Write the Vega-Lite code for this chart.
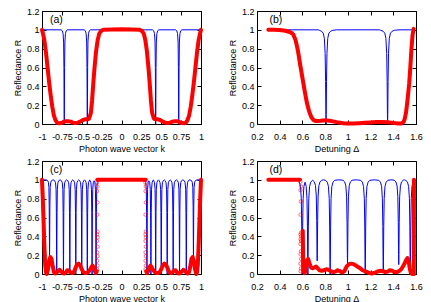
{
"$schema": "https://vega.github.io/schema/vega-lite/v6.json",
"padding": {"left": 12, "top": 6, "right": 0, "bottom": 0},
"background": "white",
"columns": 2,
"bounds": "flush",
"spacing": {"row": 37, "column": 56},
"config": {
 "font": "Liberation Sans",
 "view": {"stroke": "black", "strokeWidth": 1},
 "axis": {"domain": false, "grid": false, "ticks": true, "tickSize": -4, "tickColor": "black", "tickWidth": 1, "labelFont": "Liberation Sans", "labelFontSize": 9, "labelColor": "black", "labelFlush": false, "labelOverlap": false, "titleFont": "Liberation Sans", "titleFontSize": 9, "titleFontWeight": "normal", "titleColor": "black"},
 "axisX": {"labelPadding": 12, "titlePadding": 3},
 "axisY": {"labelPadding": 7, "titlePadding": 4}
},
"concat": [
{
 "width": 159, "height": 113,
 "resolve": {"axis": {"x": "independent", "y": "independent"}},
 "layer": [
  {"data": {"values": [
   {"x":-1,"R":1},{"x":-0.8,"R":1},
   {"x":-0.76,"R":1},{"x":-0.745,"R":0.99},{"x":-0.735,"R":0.96},{"x":-0.728,"R":0.87},{"x":-0.724,"R":0.6},{"x":-0.7215,"R":0.15},{"x":-0.72,"R":0},{"x":-0.7185,"R":0.15},{"x":-0.716,"R":0.6},{"x":-0.712,"R":0.87},{"x":-0.705,"R":0.96},{"x":-0.695,"R":0.99},{"x":-0.68,"R":1},
   {"x":-0.47,"R":1},{"x":-0.455,"R":0.99},{"x":-0.445,"R":0.96},{"x":-0.438,"R":0.87},{"x":-0.434,"R":0.6},{"x":-0.4315,"R":0.15},{"x":-0.43,"R":0},{"x":-0.4285,"R":0.15},{"x":-0.426,"R":0.6},{"x":-0.422,"R":0.87},{"x":-0.415,"R":0.96},{"x":-0.405,"R":0.99},{"x":-0.39,"R":1},
   {"x":0,"R":1},
   {"x":0.39,"R":1},{"x":0.405,"R":0.99},{"x":0.415,"R":0.96},{"x":0.422,"R":0.87},{"x":0.426,"R":0.6},{"x":0.4285,"R":0.15},{"x":0.43,"R":0},{"x":0.4315,"R":0.15},{"x":0.434,"R":0.6},{"x":0.438,"R":0.87},{"x":0.445,"R":0.96},{"x":0.455,"R":0.99},{"x":0.47,"R":1},
   {"x":0.68,"R":1},{"x":0.695,"R":0.99},{"x":0.705,"R":0.96},{"x":0.712,"R":0.87},{"x":0.716,"R":0.6},{"x":0.7185,"R":0.15},{"x":0.72,"R":0},{"x":0.7215,"R":0.15},{"x":0.724,"R":0.6},{"x":0.728,"R":0.87},{"x":0.735,"R":0.96},{"x":0.745,"R":0.99},{"x":0.76,"R":1},
   {"x":1,"R":1}
  ]},
  "mark": {"type": "line", "color": "#0000ff", "strokeWidth": 1},
  "encoding": {
   "x": {"field": "x", "type": "quantitative", "scale": {"domain": [-1, 1], "nice": false, "zero": false}, "axis": {"orient": "bottom", "values": [-1,-0.75,-0.5,-0.25,0,0.25,0.5,0.75,1], "labelExpr": "toString(datum.value)", "title": "Photon wave vector k"}},
   "y": {"field": "R", "type": "quantitative", "scale": {"domain": [0, 1.2], "nice": false}, "axis": {"orient": "left", "values": [0,0.2,0.4,0.6,0.8,1,1.2], "labelExpr": "toString(datum.value)", "title": "Reflectance R"}}
  }},
  {"data": {"values": [
   {"x":-1,"R":1},{"x":-0.985,"R":0.95},{"x":-0.97,"R":0.89},{"x":-0.95,"R":0.76},{"x":-0.93,"R":0.6},{"x":-0.91,"R":0.44},{"x":-0.89,"R":0.3},{"x":-0.87,"R":0.18},{"x":-0.85,"R":0.09},{"x":-0.83,"R":0.04},{"x":-0.81,"R":0.015},{"x":-0.79,"R":0.008},{"x":-0.76,"R":0.01},{"x":-0.73,"R":0.02},{"x":-0.7,"R":0.03},{"x":-0.67,"R":0.03},{"x":-0.64,"R":0.025},{"x":-0.61,"R":0.015},{"x":-0.58,"R":0.01},{"x":-0.55,"R":0.015},{"x":-0.52,"R":0.025},{"x":-0.49,"R":0.04},{"x":-0.46,"R":0.05},{"x":-0.43,"R":0.05},{"x":-0.41,"R":0.055},{"x":-0.395,"R":0.09},{"x":-0.385,"R":0.12},{"x":-0.37,"R":0.25},{"x":-0.355,"R":0.43},{"x":-0.34,"R":0.59},{"x":-0.32,"R":0.77},{"x":-0.3,"R":0.89},{"x":-0.28,"R":0.96},{"x":-0.26,"R":0.985},{"x":-0.23,"R":1.0},{"x":0,"R":1.005},
   {"x":0.23,"R":1.0},{"x":0.26,"R":0.985},{"x":0.28,"R":0.96},{"x":0.3,"R":0.89},{"x":0.32,"R":0.77},{"x":0.34,"R":0.59},{"x":0.355,"R":0.43},{"x":0.37,"R":0.25},{"x":0.385,"R":0.12},{"x":0.395,"R":0.09},{"x":0.41,"R":0.055},{"x":0.43,"R":0.05},{"x":0.46,"R":0.05},{"x":0.49,"R":0.04},{"x":0.52,"R":0.025},{"x":0.55,"R":0.015},{"x":0.58,"R":0.01},{"x":0.61,"R":0.015},{"x":0.64,"R":0.025},{"x":0.67,"R":0.03},{"x":0.7,"R":0.03},{"x":0.73,"R":0.02},{"x":0.76,"R":0.01},{"x":0.79,"R":0.008},{"x":0.81,"R":0.015},{"x":0.83,"R":0.04},{"x":0.85,"R":0.09},{"x":0.87,"R":0.18},{"x":0.89,"R":0.3},{"x":0.91,"R":0.44},{"x":0.93,"R":0.6},{"x":0.95,"R":0.76},{"x":0.97,"R":0.89},{"x":0.985,"R":0.95},{"x":1,"R":1}
  ]},
  "mark": {"type": "line", "color": "#ff0000", "strokeWidth": 4, "strokeCap": "round", "strokeJoin": "round"},
  "encoding": {
   "x": {"field": "x", "type": "quantitative", "scale": {"domain": [-1, 1], "nice": false, "zero": false}, "axis": null},
   "y": {"field": "R", "type": "quantitative", "scale": {"domain": [0, 1.2], "nice": false}, "axis": null}
  }},
  {"data": {"values": [{"x": -0.9, "R": 1.1, "t": "(a)"}]},
  "mark": {"type": "text", "align": "left", "baseline": "middle", "fontSize": 10.5, "color": "black"},
  "encoding": {
   "x": {"field": "x", "type": "quantitative", "scale": {"domain": [-1, 1], "nice": false, "zero": false}, "axis": {"orient": "top", "values": [-1,-0.75,-0.5,-0.25,0,0.25,0.5,0.75,1], "labels": false, "title": null}},
   "y": {"field": "R", "type": "quantitative", "scale": {"domain": [0, 1.2], "nice": false}, "axis": {"orient": "right", "values": [0,0.2,0.4,0.6,0.8,1,1.2], "labels": false, "title": null}},
   "text": {"field": "t"}
  }}
 ]
},
{
 "width": 159, "height": 113,
 "resolve": {"axis": {"x": "independent", "y": "independent"}},
 "layer": [
  {"data": {"values": [
   {"x":0.3,"R":1},{"x":0.74,"R":1},
   {"x":0.748,"R":0.995},{"x":0.768,"R":0.985},{"x":0.783,"R":0.965},{"x":0.793,"R":0.91},{"x":0.8,"R":0.75},{"x":0.804,"R":0.45},{"x":0.8065,"R":0.1},{"x":0.808,"R":0},{"x":0.8095,"R":0.1},{"x":0.812,"R":0.45},{"x":0.816,"R":0.75},{"x":0.823,"R":0.91},{"x":0.833,"R":0.965},{"x":0.848,"R":0.985},{"x":0.868,"R":0.995},{"x":0.9,"R":1},
   {"x":1.28,"R":1},
   {"x":1.29,"R":0.995},{"x":1.31,"R":0.985},{"x":1.325,"R":0.965},{"x":1.335,"R":0.91},{"x":1.342,"R":0.75},{"x":1.346,"R":0.45},{"x":1.3485,"R":0.1},{"x":1.35,"R":0},{"x":1.3515,"R":0.1},{"x":1.354,"R":0.45},{"x":1.358,"R":0.75},{"x":1.365,"R":0.91},{"x":1.375,"R":0.965},{"x":1.39,"R":0.985},{"x":1.41,"R":0.995},{"x":1.45,"R":1},{"x":1.58,"R":1}
  ]},
  "mark": {"type": "line", "color": "#0000ff", "strokeWidth": 1},
  "encoding": {
   "x": {"field": "x", "type": "quantitative", "scale": {"domain": [0.2, 1.6], "nice": false, "zero": false}, "axis": {"orient": "bottom", "values": [0.2,0.4,0.6,0.8,1,1.2,1.4,1.6], "labelExpr": "toString(datum.value)", "title": "Detuning Δ"}},
   "y": {"field": "R", "type": "quantitative", "scale": {"domain": [0, 1.2], "nice": false}, "axis": {"orient": "left", "values": [0,0.2,0.4,0.6,0.8,1,1.2], "labelExpr": "toString(datum.value)", "title": "Reflectance R"}}
  }},
  {"data": {"values": [
   {"x":0.3,"R":1.0},{"x":0.35,"R":1.0},{"x":0.4,"R":0.998},{"x":0.45,"R":0.99},{"x":0.48,"R":0.98},{"x":0.5,"R":0.97},{"x":0.52,"R":0.95},{"x":0.54,"R":0.89},{"x":0.56,"R":0.78},{"x":0.58,"R":0.63},{"x":0.6,"R":0.49},{"x":0.62,"R":0.35},{"x":0.64,"R":0.22},{"x":0.66,"R":0.13},{"x":0.68,"R":0.07},{"x":0.7,"R":0.04},{"x":0.72,"R":0.032},{"x":0.76,"R":0.035},{"x":0.8,"R":0.04},{"x":0.84,"R":0.035},{"x":0.88,"R":0.025},{"x":0.92,"R":0.015},{"x":0.96,"R":0.008},{"x":1.0,"R":0.005},{"x":1.05,"R":0.005},{"x":1.1,"R":0.008},{"x":1.15,"R":0.012},{"x":1.2,"R":0.016},{"x":1.25,"R":0.02},{"x":1.3,"R":0.02},{"x":1.35,"R":0.018},{"x":1.4,"R":0.012},{"x":1.44,"R":0.005},{"x":1.47,"R":0.005},{"x":1.49,"R":0.02},{"x":1.5,"R":0.05},{"x":1.512,"R":0.12},{"x":1.525,"R":0.25},{"x":1.54,"R":0.43},{"x":1.55,"R":0.6},{"x":1.56,"R":0.8},{"x":1.57,"R":0.95},{"x":1.58,"R":1.01}
  ]},
  "mark": {"type": "line", "color": "#ff0000", "strokeWidth": 4, "strokeCap": "round", "strokeJoin": "round"},
  "encoding": {
   "x": {"field": "x", "type": "quantitative", "scale": {"domain": [0.2, 1.6], "nice": false, "zero": false}, "axis": null},
   "y": {"field": "R", "type": "quantitative", "scale": {"domain": [0, 1.2], "nice": false}, "axis": null}
  }},
  {"data": {"values": [{"x": 0.31, "R": 1.1, "t": "(b)"}]},
  "mark": {"type": "text", "align": "left", "baseline": "middle", "fontSize": 10.5, "color": "black"},
  "encoding": {
   "x": {"field": "x", "type": "quantitative", "scale": {"domain": [0.2, 1.6], "nice": false, "zero": false}, "axis": {"orient": "top", "values": [0.2,0.4,0.6,0.8,1,1.2,1.4,1.6], "labels": false, "title": null}},
   "y": {"field": "R", "type": "quantitative", "scale": {"domain": [0, 1.2], "nice": false}, "axis": {"orient": "right", "values": [0,0.2,0.4,0.6,0.8,1,1.2], "labels": false, "title": null}},
   "text": {"field": "t"}
  }}
 ]
},
{
 "width": 159, "height": 113,
 "resolve": {"axis": {"x": "independent", "y": "independent"}},
 "layer": [
  {"data": {"values": [
   {"x":-1,"R":1},{"x":-0.95,"R":1},
   {"x":-0.93,"R":0.992},{"x":-0.92,"R":0.975},{"x":-0.913,"R":0.918},{"x":-0.909,"R":0.713},{"x":-0.9065,"R":0.344},{"x":-0.905,"R":0.18},{"x":-0.9035,"R":0.344},{"x":-0.901,"R":0.713},{"x":-0.897,"R":0.918},{"x":-0.89,"R":0.975},{"x":-0.88,"R":0.992},{"x":-0.86,"R":1},
   {"x":-0.84,"R":0.99},{"x":-0.83,"R":0.97},{"x":-0.823,"R":0.9},{"x":-0.819,"R":0.65},{"x":-0.8165,"R":0.2},{"x":-0.815,"R":0},{"x":-0.8135,"R":0.2},{"x":-0.811,"R":0.65},{"x":-0.807,"R":0.9},{"x":-0.8,"R":0.97},{"x":-0.79,"R":0.99},{"x":-0.772,"R":1},
   {"x":-0.755,"R":0.99},{"x":-0.745,"R":0.97},{"x":-0.738,"R":0.9},{"x":-0.734,"R":0.65},{"x":-0.7315,"R":0.2},{"x":-0.73,"R":0},{"x":-0.7285,"R":0.2},{"x":-0.726,"R":0.65},{"x":-0.722,"R":0.9},{"x":-0.715,"R":0.97},{"x":-0.705,"R":0.99},{"x":-0.69,"R":1},
   {"x":-0.675,"R":0.99},{"x":-0.665,"R":0.97},{"x":-0.658,"R":0.9},{"x":-0.654,"R":0.65},{"x":-0.6515,"R":0.2},{"x":-0.65,"R":0},{"x":-0.6485,"R":0.2},{"x":-0.646,"R":0.65},{"x":-0.642,"R":0.9},{"x":-0.635,"R":0.97},{"x":-0.625,"R":0.99},{"x":-0.612,"R":1},
   {"x":-0.6,"R":0.99},{"x":-0.59,"R":0.97},{"x":-0.583,"R":0.9},{"x":-0.579,"R":0.65},{"x":-0.5765,"R":0.2},{"x":-0.575,"R":0},{"x":-0.5735,"R":0.2},{"x":-0.571,"R":0.65},{"x":-0.567,"R":0.9},{"x":-0.56,"R":0.97},{"x":-0.55,"R":0.99},{"x":-0.5375,"R":1},
   {"x":-0.525,"R":0.99},{"x":-0.515,"R":0.97},{"x":-0.508,"R":0.9},{"x":-0.504,"R":0.65},{"x":-0.5015,"R":0.2},{"x":-0.5,"R":0},{"x":-0.4985,"R":0.2},{"x":-0.496,"R":0.65},{"x":-0.492,"R":0.9},{"x":-0.485,"R":0.97},{"x":-0.475,"R":0.99},{"x":-0.465,"R":1},
   {"x":-0.455,"R":0.99},{"x":-0.445,"R":0.97},{"x":-0.438,"R":0.9},{"x":-0.434,"R":0.65},{"x":-0.4315,"R":0.2},{"x":-0.43,"R":0},{"x":-0.4285,"R":0.2},{"x":-0.426,"R":0.65},{"x":-0.422,"R":0.9},{"x":-0.415,"R":0.97},{"x":-0.405,"R":0.99},{"x":-0.4,"R":1},
   {"x":-0.395,"R":0.99},{"x":-0.385,"R":0.97},{"x":-0.378,"R":0.9},{"x":-0.374,"R":0.65},{"x":-0.3715,"R":0.2},{"x":-0.37,"R":0},{"x":-0.3685,"R":0.2},{"x":-0.366,"R":0.65},{"x":-0.362,"R":0.9},{"x":-0.355,"R":0.97},{"x":-0.345,"R":0.99},
   {"x":-0.335,"R":0.97},{"x":-0.328,"R":0.9},{"x":-0.324,"R":0.65},{"x":-0.3215,"R":0.2},{"x":-0.32,"R":0},{"x":-0.3185,"R":0.2},{"x":-0.316,"R":0.65},{"x":-0.312,"R":0.9},{"x":-0.305,"R":0.97},{"x":-0.295,"R":0.99},
   {"x":0,"R":1},
   {"x":0.295,"R":0.99},{"x":0.305,"R":0.97},{"x":0.312,"R":0.9},{"x":0.316,"R":0.65},{"x":0.3185,"R":0.2},{"x":0.32,"R":0},{"x":0.3215,"R":0.2},{"x":0.324,"R":0.65},{"x":0.328,"R":0.9},{"x":0.335,"R":0.97},
   {"x":0.345,"R":0.99},{"x":0.355,"R":0.97},{"x":0.362,"R":0.9},{"x":0.366,"R":0.65},{"x":0.3685,"R":0.2},{"x":0.37,"R":0},{"x":0.3715,"R":0.2},{"x":0.374,"R":0.65},{"x":0.378,"R":0.9},{"x":0.385,"R":0.97},{"x":0.395,"R":0.99},
   {"x":0.4,"R":1},{"x":0.405,"R":0.99},{"x":0.415,"R":0.97},{"x":0.422,"R":0.9},{"x":0.426,"R":0.65},{"x":0.4285,"R":0.2},{"x":0.43,"R":0},{"x":0.4315,"R":0.2},{"x":0.434,"R":0.65},{"x":0.438,"R":0.9},{"x":0.445,"R":0.97},{"x":0.455,"R":0.99},
   {"x":0.465,"R":1},{"x":0.475,"R":0.99},{"x":0.485,"R":0.97},{"x":0.492,"R":0.9},{"x":0.496,"R":0.65},{"x":0.4985,"R":0.2},{"x":0.5,"R":0},{"x":0.5015,"R":0.2},{"x":0.504,"R":0.65},{"x":0.508,"R":0.9},{"x":0.515,"R":0.97},{"x":0.525,"R":0.99},
   {"x":0.5375,"R":1},{"x":0.55,"R":0.99},{"x":0.56,"R":0.97},{"x":0.567,"R":0.9},{"x":0.571,"R":0.65},{"x":0.5735,"R":0.2},{"x":0.575,"R":0},{"x":0.5765,"R":0.2},{"x":0.579,"R":0.65},{"x":0.583,"R":0.9},{"x":0.59,"R":0.97},{"x":0.6,"R":0.99},
   {"x":0.612,"R":1},{"x":0.625,"R":0.99},{"x":0.635,"R":0.97},{"x":0.642,"R":0.9},{"x":0.646,"R":0.65},{"x":0.6485,"R":0.2},{"x":0.65,"R":0},{"x":0.6515,"R":0.2},{"x":0.654,"R":0.65},{"x":0.658,"R":0.9},{"x":0.665,"R":0.97},{"x":0.675,"R":0.99},
   {"x":0.69,"R":1},{"x":0.705,"R":0.99},{"x":0.715,"R":0.97},{"x":0.722,"R":0.9},{"x":0.726,"R":0.65},{"x":0.7285,"R":0.2},{"x":0.73,"R":0},{"x":0.7315,"R":0.2},{"x":0.734,"R":0.65},{"x":0.738,"R":0.9},{"x":0.745,"R":0.97},{"x":0.755,"R":0.99},
   {"x":0.772,"R":1},{"x":0.79,"R":0.99},{"x":0.8,"R":0.97},{"x":0.807,"R":0.9},{"x":0.811,"R":0.65},{"x":0.8135,"R":0.2},{"x":0.815,"R":0},{"x":0.8165,"R":0.2},{"x":0.819,"R":0.65},{"x":0.823,"R":0.9},{"x":0.83,"R":0.97},{"x":0.84,"R":0.99},
   {"x":0.86,"R":1},{"x":0.88,"R":0.992},{"x":0.89,"R":0.975},{"x":0.897,"R":0.918},{"x":0.901,"R":0.713},{"x":0.9035,"R":0.344},{"x":0.905,"R":0.18},{"x":0.9065,"R":0.344},{"x":0.909,"R":0.713},{"x":0.913,"R":0.918},{"x":0.92,"R":0.975},{"x":0.93,"R":0.992},
   {"x":0.95,"R":1},{"x":1,"R":1}
  ]},
  "mark": {"type": "line", "color": "#0000ff", "strokeWidth": 1},
  "encoding": {
   "x": {"field": "x", "type": "quantitative", "scale": {"domain": [-1, 1], "nice": false, "zero": false}, "axis": {"orient": "bottom", "values": [-1,-0.75,-0.5,-0.25,0,0.25,0.5,0.75,1], "labelExpr": "toString(datum.value)", "title": "Photon wave vector k"}},
   "y": {"field": "R", "type": "quantitative", "scale": {"domain": [0, 1.2], "nice": false}, "axis": {"orient": "left", "values": [0,0.2,0.4,0.6,0.8,1,1.2], "labelExpr": "toString(datum.value)", "title": "Reflectance R"}}
  }},
  {"data": {"values": [
   {"seg":1,"x":-1,"R":1},{"seg":1,"x":-0.99,"R":0.8},{"seg":1,"x":-0.98,"R":0.55},{"seg":1,"x":-0.97,"R":0.3},{"seg":1,"x":-0.96,"R":0.1},{"seg":1,"x":-0.95,"R":0.02},{"seg":1,"x":-0.94,"R":0.0},{"seg":1,"x":-0.925,"R":0.05},{"seg":1,"x":-0.91,"R":0.14},{"seg":1,"x":-0.895,"R":0.18},{"seg":1,"x":-0.88,"R":0.16},{"seg":1,"x":-0.865,"R":0.08},{"seg":1,"x":-0.85,"R":0.02},{"seg":1,"x":-0.835,"R":0.005},{"seg":1,"x":-0.82,"R":0.01},{"seg":1,"x":-0.8,"R":0.03},{"seg":1,"x":-0.78,"R":0.045},{"seg":1,"x":-0.76,"R":0.03},{"seg":1,"x":-0.74,"R":0.01},{"seg":1,"x":-0.72,"R":0.005},{"seg":1,"x":-0.7,"R":0.015},{"seg":1,"x":-0.68,"R":0.04},{"seg":1,"x":-0.66,"R":0.035},{"seg":1,"x":-0.64,"R":0.015},{"seg":1,"x":-0.62,"R":0.01},{"seg":1,"x":-0.6,"R":0.02},{"seg":1,"x":-0.58,"R":0.06},{"seg":1,"x":-0.56,"R":0.1},{"seg":1,"x":-0.54,"R":0.11},{"seg":1,"x":-0.52,"R":0.09},{"seg":1,"x":-0.5,"R":0.05},{"seg":1,"x":-0.48,"R":0.02},{"seg":1,"x":-0.46,"R":0.01},{"seg":1,"x":-0.44,"R":0.01},{"seg":1,"x":-0.42,"R":0.02},{"seg":1,"x":-0.4,"R":0.04},{"seg":1,"x":-0.38,"R":0.07},{"seg":1,"x":-0.365,"R":0.09},{"seg":1,"x":-0.35,"R":0.07},{"seg":1,"x":-0.335,"R":0.03},{"seg":1,"x":-0.32,"R":0.01},{"seg":1,"x":-0.31,"R":0.03},
   {"seg":2,"x":-0.305,"R":1},{"seg":2,"x":0.305,"R":1},
   {"seg":3,"x":0.31,"R":0.03},{"seg":3,"x":0.32,"R":0.01},{"seg":3,"x":0.335,"R":0.03},{"seg":3,"x":0.35,"R":0.07},{"seg":3,"x":0.365,"R":0.09},{"seg":3,"x":0.38,"R":0.07},{"seg":3,"x":0.4,"R":0.04},{"seg":3,"x":0.42,"R":0.02},{"seg":3,"x":0.44,"R":0.01},{"seg":3,"x":0.46,"R":0.01},{"seg":3,"x":0.48,"R":0.02},{"seg":3,"x":0.5,"R":0.05},{"seg":3,"x":0.52,"R":0.09},{"seg":3,"x":0.54,"R":0.11},{"seg":3,"x":0.56,"R":0.1},{"seg":3,"x":0.58,"R":0.06},{"seg":3,"x":0.6,"R":0.02},{"seg":3,"x":0.62,"R":0.01},{"seg":3,"x":0.64,"R":0.015},{"seg":3,"x":0.66,"R":0.035},{"seg":3,"x":0.68,"R":0.04},{"seg":3,"x":0.7,"R":0.015},{"seg":3,"x":0.72,"R":0.005},{"seg":3,"x":0.74,"R":0.01},{"seg":3,"x":0.76,"R":0.03},{"seg":3,"x":0.78,"R":0.045},{"seg":3,"x":0.8,"R":0.03},{"seg":3,"x":0.82,"R":0.01},{"seg":3,"x":0.835,"R":0.005},{"seg":3,"x":0.85,"R":0.02},{"seg":3,"x":0.865,"R":0.08},{"seg":3,"x":0.88,"R":0.16},{"seg":3,"x":0.895,"R":0.18},{"seg":3,"x":0.91,"R":0.14},{"seg":3,"x":0.925,"R":0.05},{"seg":3,"x":0.94,"R":0.0},{"seg":3,"x":0.95,"R":0.02},{"seg":3,"x":0.96,"R":0.1},{"seg":3,"x":0.97,"R":0.3},{"seg":3,"x":0.98,"R":0.55},{"seg":3,"x":0.99,"R":0.8},{"seg":3,"x":1,"R":1}
  ]},
  "mark": {"type": "line", "color": "#ff0000", "strokeWidth": 4, "strokeCap": "round", "strokeJoin": "round"},
  "encoding": {
   "x": {"field": "x", "type": "quantitative", "scale": {"domain": [-1, 1], "nice": false, "zero": false}, "axis": null},
   "y": {"field": "R", "type": "quantitative", "scale": {"domain": [0, 1.2], "nice": false}, "axis": null},
   "detail": {"field": "seg"}
  }},
  {"data": {"values": [
   {"x":-0.307,"R":0.97},{"x":-0.303,"R":0.93},{"x":-0.307,"R":0.88},{"x":-0.303,"R":0.76},{"x":-0.307,"R":0.63},{"x":-0.303,"R":0.45},{"x":-0.307,"R":0.42},{"x":-0.303,"R":0.39},{"x":-0.307,"R":0.35},{"x":-0.303,"R":0.29},{"x":-0.307,"R":0.23},{"x":-0.303,"R":0.19},{"x":-0.307,"R":0.14},{"x":-0.303,"R":0.09},{"x":-0.307,"R":0.05},
   {"x":0.303,"R":0.97},{"x":0.307,"R":0.93},{"x":0.303,"R":0.88},{"x":0.307,"R":0.76},{"x":0.303,"R":0.63},{"x":0.307,"R":0.45},{"x":0.303,"R":0.42},{"x":0.307,"R":0.39},{"x":0.303,"R":0.35},{"x":0.307,"R":0.29},{"x":0.303,"R":0.23},{"x":0.307,"R":0.19},{"x":0.303,"R":0.14},{"x":0.307,"R":0.09},{"x":0.303,"R":0.05}
  ]},
  "mark": {"type": "point", "shape": "circle", "filled": false, "color": "#ff0000", "size": 12, "strokeWidth": 0.8},
  "encoding": {
   "x": {"field": "x", "type": "quantitative", "scale": {"domain": [-1, 1], "nice": false, "zero": false}, "axis": null},
   "y": {"field": "R", "type": "quantitative", "scale": {"domain": [0, 1.2], "nice": false}, "axis": null}
  }},
  {"data": {"values": [{"x": -0.9, "R": 1.1, "t": "(c)"}]},
  "mark": {"type": "text", "align": "left", "baseline": "middle", "fontSize": 10.5, "color": "black"},
  "encoding": {
   "x": {"field": "x", "type": "quantitative", "scale": {"domain": [-1, 1], "nice": false, "zero": false}, "axis": {"orient": "top", "values": [-1,-0.75,-0.5,-0.25,0,0.25,0.5,0.75,1], "labels": false, "title": null}},
   "y": {"field": "R", "type": "quantitative", "scale": {"domain": [0, 1.2], "nice": false}, "axis": {"orient": "right", "values": [0,0.2,0.4,0.6,0.8,1,1.2], "labels": false, "title": null}},
   "text": {"field": "t"}
  }}
 ]
},
{
 "width": 159, "height": 113,
 "resolve": {"axis": {"x": "independent", "y": "independent"}},
 "layer": [
  {"data": {"values": [
   {"x":0.3,"R":1},{"x":0.56,"R":1},
   {"x":0.573,"R":0.975},{"x":0.583,"R":0.93},{"x":0.59,"R":0.8},{"x":0.594,"R":0.5},{"x":0.5965,"R":0.12},{"x":0.598,"R":0},{"x":0.5995,"R":0.12},{"x":0.602,"R":0.5},{"x":0.606,"R":0.8},{"x":0.613,"R":0.93},{"x":0.623,"R":0.975},
   {"x":0.633,"R":0.93},{"x":0.64,"R":0.8},{"x":0.644,"R":0.5},{"x":0.6465,"R":0.12},{"x":0.648,"R":0},{"x":0.6495,"R":0.12},{"x":0.652,"R":0.5},{"x":0.656,"R":0.8},{"x":0.663,"R":0.93},{"x":0.673,"R":0.975},{"x":0.688,"R":0.995},
   {"x":0.69,"R":0.996},{"x":0.705,"R":0.979},{"x":0.715,"R":0.94},{"x":0.722,"R":0.828},{"x":0.726,"R":0.57},{"x":0.7285,"R":0.243},{"x":0.73,"R":0.14},{"x":0.7315,"R":0.243},{"x":0.734,"R":0.57},{"x":0.738,"R":0.828},{"x":0.745,"R":0.94},{"x":0.755,"R":0.979},{"x":0.77,"R":0.996},{"x":0.787,"R":1},
   {"x":0.804,"R":0.995},{"x":0.819,"R":0.975},{"x":0.829,"R":0.93},{"x":0.836,"R":0.8},{"x":0.84,"R":0.5},{"x":0.8425,"R":0.12},{"x":0.844,"R":0},{"x":0.8455,"R":0.12},{"x":0.848,"R":0.5},{"x":0.852,"R":0.8},{"x":0.859,"R":0.93},{"x":0.869,"R":0.975},{"x":0.884,"R":0.995},{"x":0.92,"R":1},
   {"x":0.957,"R":0.996},{"x":0.972,"R":0.978},{"x":0.982,"R":0.937},{"x":0.989,"R":0.82},{"x":0.993,"R":0.55},{"x":0.9955,"R":0.208},{"x":0.997,"R":0.1},{"x":0.9985,"R":0.208},{"x":1.001,"R":0.55},{"x":1.005,"R":0.82},{"x":1.012,"R":0.937},{"x":1.022,"R":0.978},{"x":1.037,"R":0.996},{"x":1.075,"R":1},
   {"x":1.113,"R":0.995},{"x":1.128,"R":0.975},{"x":1.138,"R":0.93},{"x":1.145,"R":0.8},{"x":1.149,"R":0.5},{"x":1.1515,"R":0.12},{"x":1.153,"R":0},{"x":1.1545,"R":0.12},{"x":1.157,"R":0.5},{"x":1.161,"R":0.8},{"x":1.168,"R":0.93},{"x":1.178,"R":0.975},{"x":1.193,"R":0.995},{"x":1.232,"R":1},
   {"x":1.272,"R":0.995},{"x":1.287,"R":0.975},{"x":1.297,"R":0.931},{"x":1.304,"R":0.802},{"x":1.308,"R":0.505},{"x":1.3105,"R":0.129},{"x":1.312,"R":0.01},{"x":1.3135,"R":0.129},{"x":1.316,"R":0.505},{"x":1.32,"R":0.802},{"x":1.327,"R":0.931},{"x":1.337,"R":0.975},{"x":1.352,"R":0.995},{"x":1.38,"R":1},
   {"x":1.408,"R":0.996},{"x":1.423,"R":0.978},{"x":1.433,"R":0.937},{"x":1.44,"R":0.82},{"x":1.444,"R":0.55},{"x":1.4465,"R":0.208},{"x":1.448,"R":0.1},{"x":1.4495,"R":0.208},{"x":1.452,"R":0.55},{"x":1.456,"R":0.82},{"x":1.463,"R":0.937},{"x":1.473,"R":0.978},{"x":1.488,"R":0.996},{"x":1.5,"R":1},
   {"x":1.51,"R":0.995},{"x":1.525,"R":0.975},{"x":1.535,"R":0.93},{"x":1.542,"R":0.8},{"x":1.546,"R":0.5},{"x":1.5485,"R":0.12},{"x":1.55,"R":0},{"x":1.5515,"R":0.12},{"x":1.554,"R":0.5},{"x":1.558,"R":0.8},{"x":1.565,"R":0.93},{"x":1.575,"R":0.975},{"x":1.58,"R":0.99}
  ]},
  "mark": {"type": "line", "color": "#0000ff", "strokeWidth": 1},
  "encoding": {
   "x": {"field": "x", "type": "quantitative", "scale": {"domain": [0.2, 1.6], "nice": false, "zero": false}, "axis": {"orient": "bottom", "values": [0.2,0.4,0.6,0.8,1,1.2,1.4,1.6], "labelExpr": "toString(datum.value)", "title": "Detuning Δ"}},
   "y": {"field": "R", "type": "quantitative", "scale": {"domain": [0, 1.2], "nice": false}, "axis": {"orient": "left", "values": [0,0.2,0.4,0.6,0.8,1,1.2], "labelExpr": "toString(datum.value)", "title": "Reflectance R"}}
  }},
  {"data": {"values": [
   {"seg":1,"x":0.3,"R":1},{"seg":1,"x":0.578,"R":1},
   {"seg":2,"x":0.603,"R":0.46},{"seg":2,"x":0.606,"R":0.2},{"seg":2,"x":0.609,"R":0.03},{"seg":2,"x":0.62,"R":0.01},{"seg":2,"x":0.63,"R":0.05},{"seg":2,"x":0.64,"R":0.14},{"seg":2,"x":0.65,"R":0.16},{"seg":2,"x":0.66,"R":0.12},{"seg":2,"x":0.675,"R":0.07},{"seg":2,"x":0.69,"R":0.06},{"seg":2,"x":0.705,"R":0.07},{"seg":2,"x":0.72,"R":0.08},{"seg":2,"x":0.735,"R":0.06},{"seg":2,"x":0.75,"R":0.04},{"seg":2,"x":0.77,"R":0.035},{"seg":2,"x":0.79,"R":0.04},{"seg":2,"x":0.81,"R":0.05},{"seg":2,"x":0.83,"R":0.045},{"seg":2,"x":0.85,"R":0.03},{"seg":2,"x":0.87,"R":0.02},{"seg":2,"x":0.89,"R":0.025},{"seg":2,"x":0.91,"R":0.04},{"seg":2,"x":0.93,"R":0.03},{"seg":2,"x":0.95,"R":0.015},{"seg":2,"x":0.97,"R":0.03},{"seg":2,"x":0.99,"R":0.08},{"seg":2,"x":1.01,"R":0.105},{"seg":2,"x":1.03,"R":0.11},{"seg":2,"x":1.05,"R":0.105},{"seg":2,"x":1.07,"R":0.09},{"seg":2,"x":1.09,"R":0.075},{"seg":2,"x":1.11,"R":0.06},{"seg":2,"x":1.13,"R":0.04},{"seg":2,"x":1.15,"R":0.03},{"seg":2,"x":1.17,"R":0.02},{"seg":2,"x":1.19,"R":0.01},{"seg":2,"x":1.21,"R":0.005},{"seg":2,"x":1.23,"R":0.01},{"seg":2,"x":1.25,"R":0.02},{"seg":2,"x":1.27,"R":0.03},{"seg":2,"x":1.29,"R":0.035},{"seg":2,"x":1.31,"R":0.03},{"seg":2,"x":1.33,"R":0.02},{"seg":2,"x":1.35,"R":0.025},{"seg":2,"x":1.37,"R":0.04},{"seg":2,"x":1.39,"R":0.035},{"seg":2,"x":1.41,"R":0.02},{"seg":2,"x":1.43,"R":0.02},{"seg":2,"x":1.45,"R":0.03},{"seg":2,"x":1.47,"R":0.05},{"seg":2,"x":1.49,"R":0.09},{"seg":2,"x":1.51,"R":0.14},{"seg":2,"x":1.525,"R":0.17},{"seg":2,"x":1.535,"R":0.14},{"seg":2,"x":1.545,"R":0.06},{"seg":2,"x":1.555,"R":0.01},{"seg":2,"x":1.565,"R":0.0},{"seg":2,"x":1.575,"R":0.0},
   {"seg":3,"x":1.581,"R":0.0},{"seg":3,"x":1.582,"R":1.0}
  ]},
  "mark": {"type": "line", "color": "#ff0000", "strokeWidth": 4, "strokeCap": "round", "strokeJoin": "round"},
  "encoding": {
   "x": {"field": "x", "type": "quantitative", "scale": {"domain": [0.2, 1.6], "nice": false, "zero": false}, "axis": null},
   "y": {"field": "R", "type": "quantitative", "scale": {"domain": [0, 1.2], "nice": false}, "axis": null},
   "detail": {"field": "seg"}
  }},
  {"data": {"values": [
   {"x":0.582,"R":0.98},{"x":0.587,"R":0.93},{"x":0.583,"R":0.89},{"x":0.586,"R":0.77},{"x":0.584,"R":0.63},{"x":0.588,"R":0.44},{"x":0.583,"R":0.42},{"x":0.587,"R":0.4},{"x":0.584,"R":0.37},{"x":0.588,"R":0.35},{"x":0.583,"R":0.32},{"x":0.587,"R":0.24},{"x":0.584,"R":0.21},{"x":0.588,"R":0.16},{"x":0.583,"R":0.11},{"x":0.587,"R":0.06},{"x":0.584,"R":0.03}
  ]},
  "mark": {"type": "point", "shape": "circle", "filled": false, "color": "#ff0000", "size": 12, "strokeWidth": 0.8},
  "encoding": {
   "x": {"field": "x", "type": "quantitative", "scale": {"domain": [0.2, 1.6], "nice": false, "zero": false}, "axis": null},
   "y": {"field": "R", "type": "quantitative", "scale": {"domain": [0, 1.2], "nice": false}, "axis": null}
  }},
  {"data": {"values": [{"x": 0.31, "R": 1.1, "t": "(d)"}]},
  "mark": {"type": "text", "align": "left", "baseline": "middle", "fontSize": 10.5, "color": "black"},
  "encoding": {
   "x": {"field": "x", "type": "quantitative", "scale": {"domain": [0.2, 1.6], "nice": false, "zero": false}, "axis": {"orient": "top", "values": [0.2,0.4,0.6,0.8,1,1.2,1.4,1.6], "labels": false, "title": null}},
   "y": {"field": "R", "type": "quantitative", "scale": {"domain": [0, 1.2], "nice": false}, "axis": {"orient": "right", "values": [0,0.2,0.4,0.6,0.8,1,1.2], "labels": false, "title": null}},
   "text": {"field": "t"}
  }}
 ]
}
]
}
